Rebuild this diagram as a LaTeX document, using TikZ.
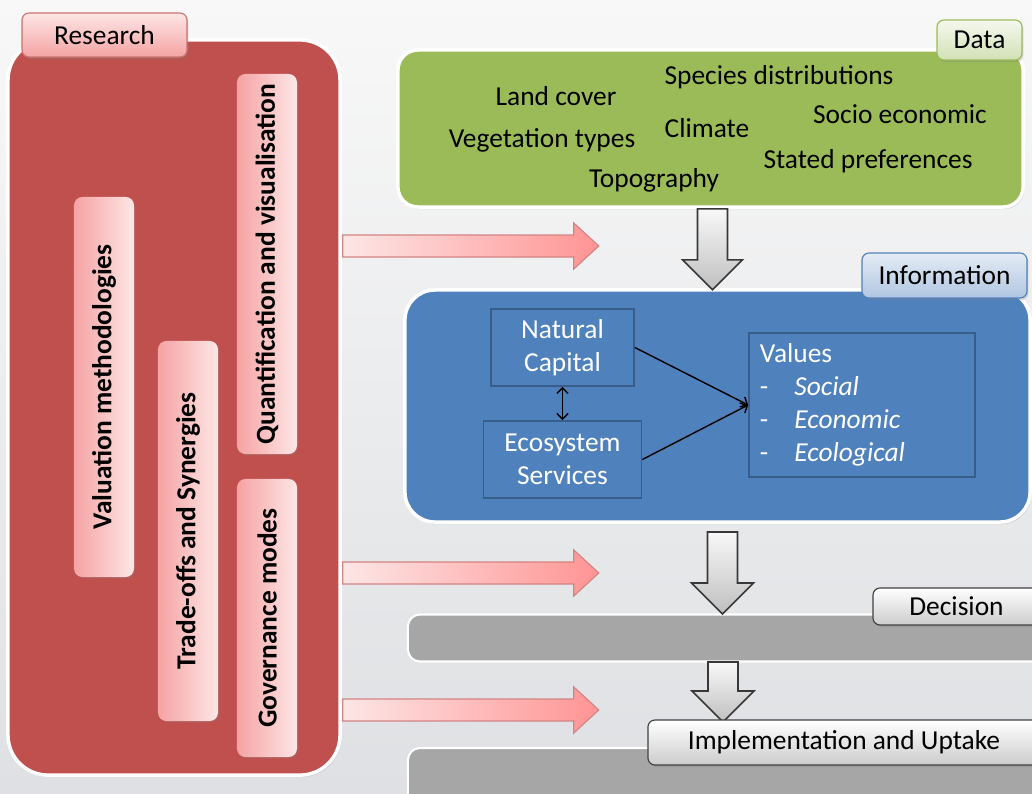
\documentclass[tikz,border=0pt]{standalone}
\usepackage{fontspec}
\setmainfont{Carlito}
\usetikzlibrary{shadows,arrows.meta}

\definecolor{forschrot}{HTML}{C0504D}
\definecolor{datengruen}{HTML}{9BBB59}
\definecolor{infoblau}{HTML}{4F81BD}
\definecolor{infodunkel}{HTML}{385D8A}
\definecolor{balkengrau}{HTML}{A6A6A6}
\definecolor{rosahell}{HTML}{FDE6E6}
\definecolor{rosadunkel}{HTML}{F5A3A3}
\definecolor{hgoben}{HTML}{F8F8F8}
\definecolor{hgunten}{HTML}{DEE0E3}

\newcommand{\schrift}{\fontsize{19.5}{23.5}\selectfont}

\tikzset{
	grossbox/.style={draw=white, line width=2.5pt, rounded corners=#1, drop shadow={opacity=0.25,shadow xshift=1pt,shadow yshift=-1.5pt}},
	senkrecht/.style={rotate=90, rounded corners=6pt, left color=rosadunkel, right color=rosahell, font=\schrift\bfseries, minimum height=1.5cm, inner sep=0pt, drop shadow={opacity=0.3,shadow xshift=1pt,shadow yshift=-1pt}},
	etikett/.style={rounded corners=5pt, line width=0.8pt, inner sep=0pt, drop shadow={opacity=0.3,shadow xshift=1pt,shadow yshift=-1.5pt}},
	rotetikett/.style={etikett, draw=forschrot!80, top color=rosahell, bottom color=rosadunkel},
	gruenetikett/.style={etikett, draw=datengruen, top color=datengruen!10, bottom color=datengruen!45},
	blauetikett/.style={etikett, draw=infoblau, top color=infoblau!15, bottom color=infoblau!45},
	grauetikett/.style={etikett, draw=black!75, top color=white, bottom color=black!20},
	innenbox/.style={draw=infodunkel, line width=1.2pt, text=white, align=center, inner sep=0pt},
	balken/.style={fill=balkengrau, draw=white, line width=1.5pt, rounded corners=0.3cm, minimum width=16.05cm},
	rotpfeil/.style={draw=forschrot!70, line width=0.8pt, left color=rosahell, right color=red!42},
	graupfeil/.style={draw=black!78, line width=1.1pt, top color=hgoben, bottom color=black!25},
	pfeilspitze/.style={line width=1pt, -{Straight Barb[length=4pt,width=8pt]}}
}

\begin{document}
\begin{tikzpicture}[x=0.025cm,y=-0.025cm,font=\schrift]
	% Hintergrund
	\useasboundingbox (0,0) rectangle (1032,794);
	\shade[top color=hgoben, bottom color=hgunten] (0,0) rectangle (1032,794);
	% Forschung
	\node[grossbox=1cm, fill=forschrot, minimum width=8.3cm, minimum height=18.375cm] (forschung) at (174,407.5) {};
	\node[rotetikett, minimum width=4.125cm, minimum height=1.1cm] (forschungtitel) at (104.5,35) {Research};
	\node[senkrecht, minimum width=9.5cm] (bewertung) at (104,387) {Valuation methodologies};
	\node[senkrecht, minimum width=9.5cm] (abwaegung) at (188,531) {Trade-offs and Synergies};
	\node[senkrecht, minimum width=9.5cm] (quantifizierung) at (267,264) {Quantification and visualisation};
	\node[senkrecht, minimum width=6.95cm] (steuerung) at (267,618) {Governance modes};
	% Daten
	\node[grossbox=0.5cm, fill=datengruen, minimum width=15.625cm, minimum height=3.925cm] (daten) at (710.5,128.5) {};
	\node[gruenetikett, minimum width=2.125cm, minimum height=1cm] (datentitel) at (979.5,40) {Data};
	\node (arten) at (779,77) {Species distributions};
	\node (landbedeckung) at (556,96) {Land cover};
	\node (sozio) at (900,114) {Socio economic};
	\node (vegetation) at (542,140) {Vegetation types};
	\node (klima) at (707,128) {Climate};
	\node (praeferenzen) at (868,161) {Stated preferences};
	\node (topographie) at (654,180) {Topography};
	% Information
	\node[grossbox=0.75cm, fill=infoblau, minimum width=15.625cm, minimum height=5.8cm] (information) at (717.5,406) {};
	\node[blauetikett, minimum width=4.125cm, minimum height=1.125cm] (infotitel) at (944.5,275.5) {Information};
	\node[innenbox, minimum width=3.575cm, minimum height=1.925cm] (kapital) at (562.5,347.5) {Natural\\Capital};
	\node[innenbox, minimum width=3.95cm, minimum height=1.925cm] (leistungen) at (562.5,459.5) {Ecosystem\\Services};
	\node[innenbox, inner xsep=0.275cm, text width=5.1cm, minimum height=3.6cm, align=left] (werte) at (862,405)
		{Values\\-\hspace{0.95em}\textit{Social}\\-\hspace{0.95em}\textit{Economic}\\-\hspace{0.95em}\textit{Ecological}};
	\draw[pfeilspitze] (kapital.east) to (werte.west);
	\draw[pfeilspitze] (leistungen.east) to (werte.west);
	\draw[pfeilspitze, {Straight Barb[length=4pt,width=8pt]}-{Straight Barb[length=4pt,width=8pt]}] (kapital.south) to (leistungen.north);
	% Entscheidung und Umsetzung
	\node[balken, minimum height=1.175cm] (entscheidung) at (729,638) {};
	\node[balken, minimum height=1.55cm] (umsetzung) at (729,779) {};
	% rote Pfeile
	\coordinate (r1) at (forschung.east |- 0,246);
	\coordinate (r2) at (forschung.east |- 0,573);
	\coordinate (r3) at (forschung.east |- 0,710);
	\draw[rotpfeil] (r1) ++(1,-11) to ++(231,0) to ++(0,-12) to ++(25,23) to ++(-25,23) to ++(0,-12) to ++(-231,0) to cycle;
	\draw[rotpfeil] (r2) ++(1,-11) to ++(231,0) to ++(0,-12) to ++(25,23) to ++(-25,23) to ++(0,-12) to ++(-231,0) to cycle;
	\draw[rotpfeil] (r3) ++(1,-11) to ++(231,0) to ++(0,-12) to ++(25,23) to ++(-25,23) to ++(0,-12) to ++(-231,0) to cycle;
	% graue Pfeile
	\coordinate (g1) at (daten.south -| 712.5,0);
	\coordinate (g2) at (722.5,532);
	\coordinate (g3) at (723,662);
	\draw[graupfeil] (g1) ++(-15,0) to ++(30,0) to ++(0,51) to ++(15,0) to ++(-30,30) to ++(-30,-30) to ++(15,0) to cycle;
	\draw[graupfeil] (g2) ++(-15,0) to ++(30,0) to ++(0,51) to ++(16,0) to ++(-31,31) to ++(-31,-31) to ++(16,0) to cycle;
	\draw[graupfeil] (g3) ++(-15,0) to ++(30,0) to ++(0,29) to ++(16,0) to ++(-31,31) to ++(-31,-31) to ++(16,0) to cycle;
	% Etiketten unten
	\node[grauetikett, minimum width=4.175cm, minimum height=0.925cm] (entscheidungtitel) at (956.5,606.5) {Decision};
	\node[grauetikett, minimum width=9.8cm, minimum height=1.125cm] (umsetzungtitel) at (844,742.5) {Implementation and Uptake};
\end{tikzpicture}
\end{document}
